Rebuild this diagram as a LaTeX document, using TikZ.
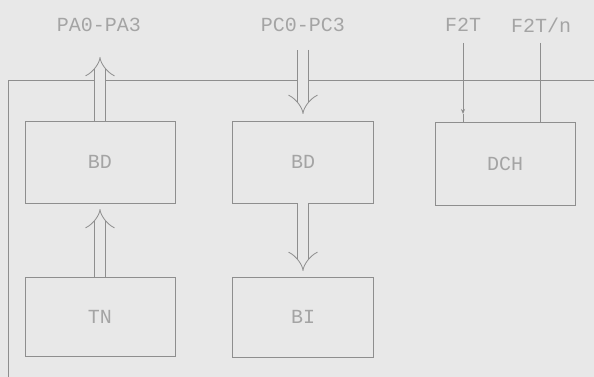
\documentclass[tikz,border=0pt]{standalone}
\usepackage{fontspec}
\setmonofont{Liberation Mono}
\usetikzlibrary{arrows.meta}
\definecolor{bgc}{HTML}{E8E8E8}
\definecolor{linec}{HTML}{8E8E8E}
\definecolor{txtc}{HTML}{A4A4A4}
\tikzset{
  blk/.style={draw=linec, line width=0.8pt, inner sep=0pt, text=txtc, font=\ttfamily\fontsize{20}{20}\selectfont},
  lbl/.style={text=txtc, inner sep=0pt, font=\ttfamily\fontsize{20}{20}\selectfont},
  wire/.style={draw=linec, line width=0.8pt},
  bus/.style={draw=linec, line width=0.8pt, double=bgc, double distance=10pt},
  bustip/.style={-{Implies[length=4pt]}},
}
\begin{document}
\begin{tikzpicture}[x=1pt,y=-1pt]
\fill[bgc] (0,0) rectangle (594,377);
\useasboundingbox (0,0) rectangle (594,377);
% frame line
\coordinate (fbl) at (8,377);
\coordinate (ftl) at (8,80);
\coordinate (ftr) at (594,80);
\draw[wire] (fbl) -- (ftl) -- (ftr);
% blocks
\node[blk, minimum width=150pt, minimum height=82pt] (bd1) at (100,162) {BD};
\node[blk, minimum width=150pt, minimum height=79pt] (tn) at (100,316.5) {TN};
\node[blk, minimum width=141pt, minimum height=82pt] (bd2) at (303,162) {BD};
\node[blk, minimum width=141pt, minimum height=80pt] (bi) at (303,317) {BI};
\node[blk, minimum width=140pt, minimum height=83pt] (dch) at (505,163.5) {DCH};
% labels
\node[lbl] (pa) at (99,25) {PA0-PA3};
\node[lbl] (pc) at (303,25) {PC0-PC3};
\node[lbl] (f2t) at (463,25) {F2T};
\node[lbl] (f2tn) at (541,25) {F2T/n};
% bus end points
\coordinate (paend) at (100,57);
\coordinate (tnend) at (100,209);
\coordinate (pcstart) at (303,50);
\coordinate (pcend) at (303,114);
\coordinate (bistart) at (303,203);
\coordinate (biend) at (303,271);
% buses
\draw[bus, bustip] (bd1.north) -- (paend);
\draw[bus, bustip] (tn.north) -- (tnend);
\draw[bus, bustip] (pcstart) -- (pcend);
\draw[bus, bustip] (bistart) -- (biend);
% single lines
\coordinate (f2ttop) at (463,43);
\coordinate (f2tntop) at (540,43);
\coordinate (f2tmid) at (463,114);
\draw[wire, -{Stealth[length=5pt,width=4pt]}] (f2ttop) -- (f2tmid);
\draw[wire] (f2tmid) -- (dch.north -| f2ttop);
\draw[wire] (f2tntop) -- (dch.north -| f2tntop);
\end{tikzpicture}
\end{document}
